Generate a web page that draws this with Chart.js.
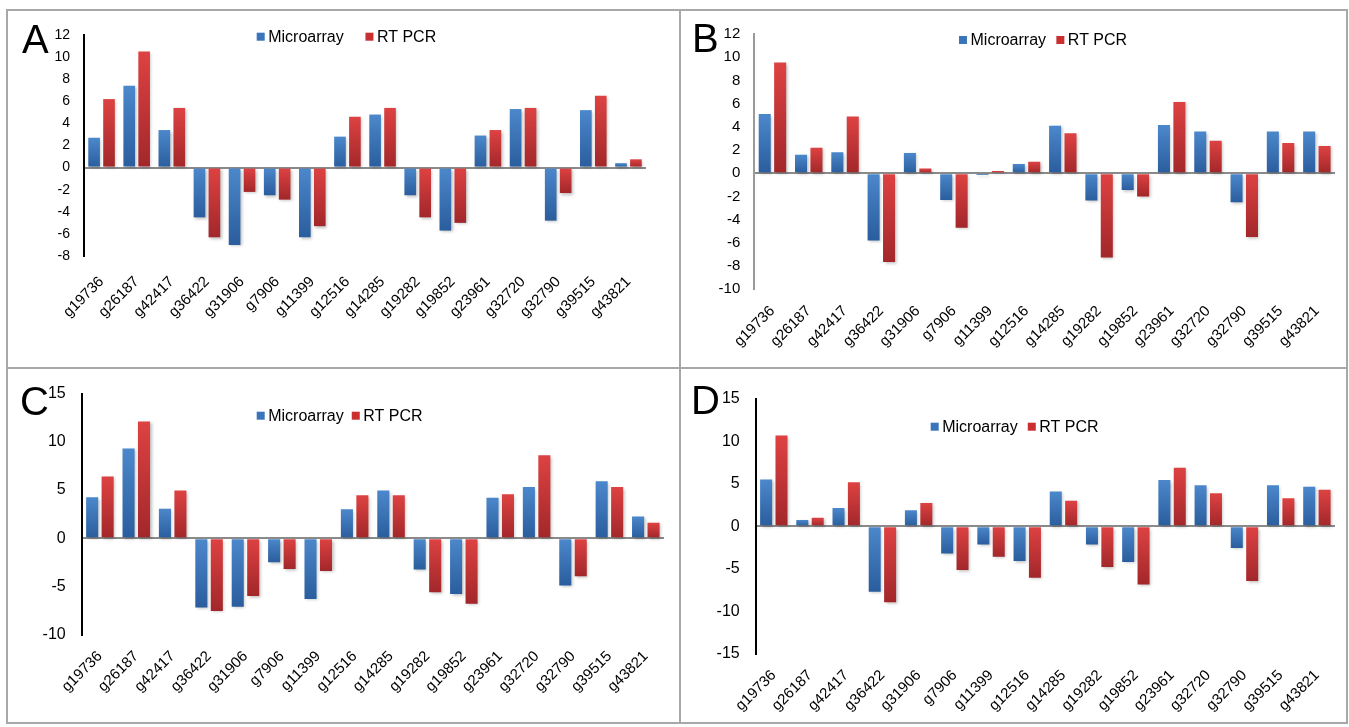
<!DOCTYPE html>
<html>
<head>
<meta charset="utf-8">
<script src="https://cdn.jsdelivr.net/npm/chart.js@4.4.1/dist/chart.umd.min.js"></script>
<style>
html,body{margin:0;padding:0;background:#fff;}
#wrap{position:relative;width:1349px;height:727px;overflow:hidden;font-family:"Liberation Sans",Arial,sans-serif;}
canvas{position:absolute;}
.ln{position:absolute;background:#a8a8a8;}
.letter{position:absolute;font-size:40px;line-height:40px;color:#000;font-family:"Liberation Sans",Arial,sans-serif;}
</style>
</head>
<body>
<div id="wrap">
  <div class="ln" style="left:6px;top:9px;width:1342px;height:2px"></div>
  <div class="ln" style="left:6px;top:722px;width:1342px;height:2px"></div>
  <div class="ln" style="left:6px;top:9px;width:2px;height:715px"></div>
  <div class="ln" style="left:1346px;top:9px;width:2px;height:715px"></div>
  <div class="ln" style="left:679px;top:9px;width:2px;height:715px"></div>
  <div class="ln" style="left:6px;top:367px;width:1342px;height:2px"></div>

  <canvas id="cA" width="680" height="368" style="left:0;top:0;width:680px;height:368px"></canvas>
  <canvas id="cB" width="669" height="368" style="left:680px;top:0;width:669px;height:368px"></canvas>
  <canvas id="cC" width="680" height="359" style="left:0;top:368px;width:680px;height:359px"></canvas>
  <canvas id="cD" width="669" height="359" style="left:680px;top:368px;width:669px;height:359px"></canvas>

  <div class="letter" style="left:22px;top:19px">A</div>
  <div class="letter" style="left:692px;top:18px">B</div>
  <div class="letter" style="left:20px;top:381px">C</div>
  <div class="letter" style="left:691px;top:380px">D</div>
</div>
<script>
// ---- data ----
const categories = ['g19736','g26187','g42417','g36422','g31906','g7906','g11399','g12516','g14285','g19282','g19852','g23961','g32720','g32790','g39515','g43821'];
const seriesNames = ['Microarray','RT PCR'];

const microA = [2.7, 7.4, 3.4, -4.5, -7.0, -2.5, -6.3, 2.8, 4.8, -2.5, -5.7, 2.9, 5.3, -4.8, 5.2, 0.4];
const pcrA   = [6.2, 10.5, 5.4, -6.3, -2.2, -2.9, -5.3, 4.6, 5.4, -4.5, -5.0, 3.4, 5.4, -2.3, 6.5, 0.75];

const microB = [5.1, 1.6, 1.8, -5.8, 1.75, -2.3, -0.15, 0.8, 4.1, -2.35, -1.45, 4.15, 3.6, -2.5, 3.6, 3.6];
const pcrB   = [9.55, 2.2, 4.9, -7.65, 0.4, -4.7, 0.2, 1.0, 3.45, -7.25, -2.0, 6.15, 2.8, -5.5, 2.6, 2.35];

const microC = [4.25, 9.3, 3.05, -7.2, -7.1, -2.5, -6.3, 3.0, 4.95, -3.25, -5.8, 4.2, 5.3, -4.9, 5.9, 2.25];
const pcrC   = [6.4, 12.1, 4.95, -7.55, -6.0, -3.2, -3.4, 4.45, 4.45, -5.6, -6.8, 4.55, 8.6, -3.95, 5.3, 1.6];

const microD = [5.5, 0.75, 2.15, -7.7, 1.9, -3.2, -2.15, -4.1, 4.1, -2.15, -4.2, 5.45, 4.85, -2.55, 4.85, 4.65];
const pcrD   = [10.7, 1.0, 5.2, -8.95, 2.75, -5.15, -3.6, -6.05, 3.0, -4.8, -6.85, 6.9, 3.9, -6.45, 3.3, 4.3];

const yTicksA = {min:-8, max:12, step:2};
const yTicksB = {min:-10, max:12, step:2};
const yTicksC = {min:-10, max:15, step:5};
const yTicksD = {min:-15, max:15, step:5};

// ---- styling helpers ----
const FONT = '"Liberation Sans", Arial, sans-serif';
const palette = {
  blue: {solid:'#3a74ba', top:'#4b88cb', bottom:'#2a5d9d'},
  red:  {solid:'#c9302f', top:'#de4242', bottom:'#a2272a'}
};

function gradientFill(pal){
  return function(ctx){
    if (ctx.type !== 'data') return pal.solid;
    const chart = ctx.chart;
    const ys = chart.scales.y;
    if (!ys || !chart.chartArea) return pal.solid;
    const v = ctx.raw;
    const top = ys.getPixelForValue(Math.max(v,0));
    const bot = ys.getPixelForValue(Math.min(v,0));
    if (!isFinite(top) || !isFinite(bot) || Math.abs(bot-top) < 0.5) return pal.solid;
    const g = chart.ctx.createLinearGradient(0, top, 0, bot);
    g.addColorStop(0, pal.top);
    g.addColorStop(1, pal.bottom);
    return g;
  };
}

const shadowPlugin = {
  id: 'barShadow',
  beforeDatasetsDraw(chart){
    const c = chart.ctx;
    c.save();
    c.shadowColor = 'rgba(0,0,0,0.25)';
    c.shadowBlur = 3;
    c.shadowOffsetX = 1.5;
    c.shadowOffsetY = 1.5;
  },
  afterDatasetsDraw(chart){ chart.ctx.restore(); }
};

const inlineLegend = {
  id: 'inlineLegend',
  afterDraw(chart, args, opts){
    const c = chart.ctx;
    c.save();
    c.font = opts.fontSize + 'px ' + FONT;
    c.textBaseline = 'middle';
    c.textAlign = 'left';
    let x = opts.x;
    chart.data.datasets.forEach(ds => {
      c.fillStyle = ds.legendColor;
      c.fillRect(x, opts.y - opts.box/2, opts.box, opts.box);
      x += opts.box + opts.textGap;
      c.fillStyle = '#000';
      c.fillText(ds.label, x, opts.y + 1);
      x += c.measureText(ds.label).width + opts.itemGap;
    });
    c.restore();
  }
};

function makeChart(id, micro, pcr, yt, L){
  new Chart(document.getElementById(id), {
    type: 'bar',
    data: {
      labels: categories,
      datasets: [
        {label: seriesNames[0], data: micro, backgroundColor: gradientFill(palette.blue), legendColor: palette.blue.solid,
         categoryPercentage: 0.85, barPercentage: 0.78, borderWidth: 0},
        {label: seriesNames[1], data: pcr, backgroundColor: gradientFill(palette.red), legendColor: palette.red.solid,
         categoryPercentage: 0.85, barPercentage: 0.78, borderWidth: 0}
      ]
    },
    options: {
      responsive: false,
      animation: false,
      devicePixelRatio: 1,
      layout: {padding: {left: 0, top: L.padTop, right: L.padRight, bottom: 0}},
      plugins: {
        legend: {display: false},
        tooltip: {enabled: false},
        inlineLegend: {x: L.legX, y: L.legY, itemGap: L.legGap, box: 8, textGap: 3.5, fontSize: 16}
      },
      scales: {
        x: {
          grid: {display: false, drawTicks: false},
          border: {display: false},
          ticks: {autoSkip: false, minRotation: 45, maxRotation: 45, padding: L.xPad,
                  color: '#000', font: {family: FONT, size: 15}},
          afterFit: s => { s.height = L.xHeight; }
        },
        y: {
          min: yt.min, max: yt.max,
          grid: {
            drawTicks: false,
            lineWidth: 2,
            color: c => (c.tick && c.tick.value === 0) ? '#8a8a8a' : 'rgba(0,0,0,0)'
          },
          border: {display: true, color: L.axisColor, width: 2},
          ticks: {stepSize: yt.step, padding: L.yPad, color: '#000', font: {family: FONT, size: L.yFont}},
          afterFit: s => { s.width = L.yWidth; }
        }
      }
    },
    plugins: [shadowPlugin, inlineLegend]
  });
}

makeChart('cA', microA, pcrA, yTicksA,
  {padTop: 35, padRight: 34, xHeight: 112, yWidth: 84, yPad: 14, yFont: 14, xPad: 17,
   axisColor: '#000', legX: 256.7, legY: 36.7, legGap: 21.7});
makeChart('cB', microB, pcrB, yTicksB,
  {padTop: 34, padRight: 14, xHeight: 78.7, yWidth: 74.3, yPad: 14, yFont: 15, xPad: 13,
   axisColor: '#9a9a9a', legX: 279, legY: 40, legGap: 10.3});
makeChart('cC', microC, pcrC, yTicksC,
  {padTop: 24.3, padRight: 16, xHeight: 92.4, yWidth: 81.7, yPad: 16, yFont: 16, xPad: 13,
   axisColor: '#000', legX: 256.7, legY: 47.7, legGap: 8});
makeChart('cD', microD, pcrD, yTicksD,
  {padTop: 31, padRight: 14, xHeight: 73.4, yWidth: 75.7, yPad: 16, yFont: 16, xPad: 13,
   axisColor: '#000', legX: 250.7, legY: 58.7, legGap: 10});
</script>
</body>
</html>
